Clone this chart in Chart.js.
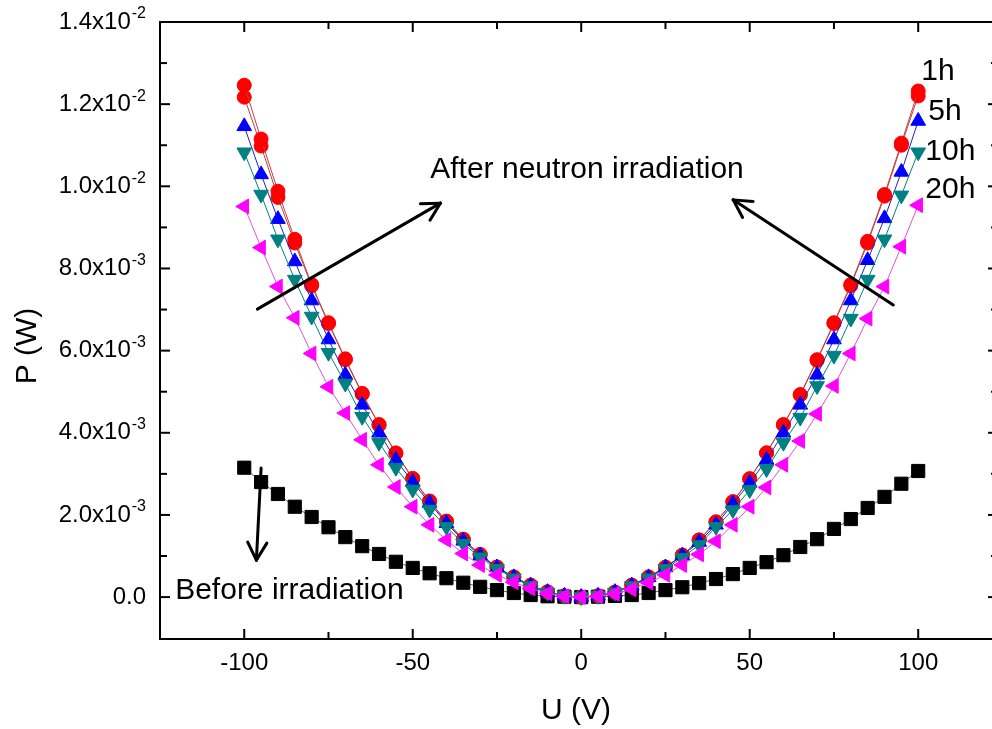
<!DOCTYPE html>
<html><head><meta charset="utf-8">
<script src="https://cdn.jsdelivr.net/npm/chart.js@4/dist/chart.umd.min.js"></script>
<style>
html,body{margin:0;padding:0;overflow:hidden;background:#fff;width:992px;height:729px;}
#c{display:block;}
</style></head><body><canvas id="c" width="992" height="729"></canvas>
<script>
// ---- data (P in mW, converted to W below) ----
const voltage = [-100,-95,-90,-85,-80,-75,-70,-65,-60,-55,-50,-45,-40,-35,-30,-25,-20,-15,-10,-5,0,5,10,15,20,25,30,35,40,45,50,55,60,65,70,75,80,85,90,95,100];
const beforeIrr = [3.15,2.80,2.51,2.20,1.95,1.70,1.46,1.24,1.05,0.86,0.71,0.58,0.46,0.35,0.25,0.17,0.10,0.05,0.02,0.01,0.00,0.01,0.03,0.05,0.10,0.17,0.24,0.34,0.44,0.56,0.71,0.85,1.02,1.22,1.41,1.66,1.90,2.17,2.44,2.76,3.07];
const irr1hA = [12.46,11.15,9.88,8.71,7.61,6.68,5.80,4.96,4.20,3.51,2.89,2.34,1.85,1.41,1.04,0.73,0.49,0.29,0.13,0.03,0.00,0.03,0.12,0.29,0.49,0.73,1.02,1.39,1.83,2.32,2.88,3.51,4.20,4.93,5.78,6.68,7.61,8.66,9.80,11.05,12.32];
const irr1hB = [12.17,10.98,9.73,8.62,7.58,6.66,5.78,4.94,4.19,3.50,2.88,2.33,1.84,1.40,1.03,0.73,0.49,0.29,0.12,0.03,0.00,0.03,0.12,0.29,0.49,0.73,1.02,1.39,1.83,2.32,2.88,3.51,4.19,4.92,5.76,6.66,7.58,8.62,9.76,11.00,12.20];
const irr5h = [11.46,10.29,9.20,8.17,7.22,6.27,5.41,4.68,4.00,3.34,2.80,2.29,1.80,1.37,1.01,0.72,0.48,0.28,0.12,0.03,0.00,0.03,0.12,0.28,0.48,0.72,1.01,1.34,1.76,2.27,2.78,3.34,4.00,4.68,5.41,6.27,7.22,8.20,9.22,10.35,11.59];
const irr10h = [10.83,9.80,8.71,7.73,6.83,5.95,5.20,4.39,3.76,3.15,2.62,2.13,1.71,1.30,0.97,0.69,0.46,0.27,0.11,0.03,0.00,0.03,0.11,0.27,0.46,0.69,0.96,1.27,1.71,2.12,2.61,3.12,3.76,4.37,5.14,5.88,6.78,7.73,8.71,9.78,10.83];
const irr20h = [9.51,8.51,7.56,6.80,5.93,5.12,4.48,3.83,3.22,2.68,2.20,1.76,1.39,1.06,0.78,0.54,0.36,0.21,0.09,0.02,0.00,0.02,0.08,0.19,0.35,0.54,0.78,1.04,1.36,1.76,2.20,2.67,3.22,3.80,4.46,5.14,5.93,6.78,7.56,8.53,9.54];

// ---- axis ticks / labels ----
const xTickValues = [-100,-50,0,50,100];
const xTickLabels = ['-100','-50','0','50','100'];
const xMinorTicks = [-75,-25,25,75];
const yTickValues = [0,0.002,0.004,0.006,0.008,0.010,0.012,0.014];
const yTickMantissa = ['0.0','2.0x10','4.0x10','6.0x10','8.0x10','1.0x10','1.2x10','1.4x10'];
const yTickExponent = ['','-3','-3','-3','-3','-2','-2','-2'];
const yMinorTicks = [0.001,0.003,0.005,0.007,0.009,0.011,0.013];
const xFrameEnd = 123.7; // right frame of the original figure lies just beyond the crop

// ---- annotations (in data coordinates) ----
const curveLabels = [
  {text:'1h', u:100.9, p:12.78e-3},
  {text:'5h', u:103.0, p:11.81e-3},
  {text:'10h', u:102.1, p:10.84e-3},
  {text:'20h', u:102.1, p:9.91e-3}
];
const noteTexts = [
  {text:'After neutron irradiation', u:-44.8, p:10.40e-3},
  {text:'Before irradiation', u:-120.5, p:0.15e-3}
];
const arrowList = [
  {from:[-96.1,7.01e-3], to:[-41.8,9.59e-3]},
  {from:[92.6,7.11e-3], to:[45.1,9.67e-3]},
  {from:[-95.0,3.14e-3], to:[-96.4,0.90e-3]}
];

const FONT = "'Liberation Sans', Arial, Helvetica, sans-serif";
Chart.defaults.font.family = FONT;
Chart.defaults.color = '#000';

function pts(arr){ return voltage.map((u,i)=>({x:u, y:arr[i]*1e-3})); }

function ds(label, arr, color, lineColor, style, rot, radius){
  return {
    label, data: pts(arr), borderColor: lineColor, borderWidth: 1,
    backgroundColor: color, pointBackgroundColor: color, pointBorderColor: color,
    pointBorderWidth: 1, pointStyle: style, pointRotation: rot, pointRadius: radius,
    pointHoverRadius: radius, tension: 0, fill: false, clip: false
  };
}

const datasets = [
  ds('20h', irr20h, '#FF00FF', '#E050E0', 'triangle', -90, 8.5),
  ds('10h', irr10h, '#008080', '#008080', 'triangle', 180, 8.5),
  ds('5h', irr5h, '#0000FF', '#2020C0', 'triangle', 0, 8.5),
  ds('1h', irr1hA, '#FF0000', '#C04040', 'circle', 0, 7),
  ds('1h', irr1hB, '#FF0000', '#C04040', 'circle', 0, 7),
  ds('Before irradiation', beforeIrr, '#000000', '#606060', 'rect', 0, 9.3)
];

function line(ctx,x1,y1,x2,y2){ctx.beginPath();ctx.moveTo(x1,y1);ctx.lineTo(x2,y2);ctx.stroke();}

const decor = {
  id:'decor',
  afterDatasetsDraw(chart){
    const ctx = chart.ctx, xs = chart.scales.x, ys = chart.scales.y;
    ctx.save();
    ctx.strokeStyle = '#000'; ctx.lineWidth = 3; ctx.lineCap = 'round';
    arrowList.forEach(a=>{
      const x1 = xs.getPixelForValue(a.from[0]), y1 = ys.getPixelForValue(a.from[1]);
      const x2 = xs.getPixelForValue(a.to[0]), y2 = ys.getPixelForValue(a.to[1]);
      line(ctx,x1,y1,x2,y2);
      const ang = Math.atan2(y2-y1, x2-x1), L = 20, w = 0.5;
      line(ctx,x2,y2,x2-L*Math.cos(ang-w),y2-L*Math.sin(ang-w));
      line(ctx,x2,y2,x2-L*Math.cos(ang+w),y2-L*Math.sin(ang+w));
    });
    ctx.fillStyle = '#000'; ctx.textBaseline = 'middle'; ctx.textAlign = 'left';
    ctx.font = '30px ' + FONT;
    noteTexts.concat(curveLabels).forEach(t=>{
      ctx.fillText(t.text, xs.getPixelForValue(t.u), ys.getPixelForValue(t.p));
    });
    ctx.restore();
  },
  afterDraw(chart){
    const ctx = chart.ctx, ca = chart.chartArea, xs = chart.scales.x, ys = chart.scales.y;
    const rx = xs.getPixelForValue(xFrameEnd);
    ctx.save();
    ctx.strokeStyle = '#000'; ctx.lineWidth = 2;
    ctx.strokeRect(ca.left, ca.top, rx-ca.left, ca.bottom-ca.top);
    const MAJ = 10, MIN = 7;
    xTickValues.forEach(v=>{const p=xs.getPixelForValue(v); line(ctx,p,ca.bottom,p,ca.bottom-MAJ); line(ctx,p,ca.top,p,ca.top+MAJ);});
    xMinorTicks.forEach(v=>{const p=xs.getPixelForValue(v); line(ctx,p,ca.bottom,p,ca.bottom-MIN); line(ctx,p,ca.top,p,ca.top+MIN);});
    yTickValues.forEach(v=>{const p=ys.getPixelForValue(v); line(ctx,ca.left,p,ca.left+MAJ,p); line(ctx,rx,p,rx-MAJ,p);});
    yMinorTicks.forEach(v=>{const p=ys.getPixelForValue(v); line(ctx,ca.left,p,ca.left+MIN,p); line(ctx,rx,p,rx-MIN,p);});
    // y tick labels with superscript exponents
    ctx.fillStyle = '#000'; ctx.textBaseline = 'middle'; ctx.textAlign = 'left';
    const right = ca.left - 14;
    yTickValues.forEach((v,i)=>{
      const p = ys.getPixelForValue(v);
      ctx.font = '16px ' + FONT;
      const ew = yTickExponent[i] ? ctx.measureText(yTickExponent[i]).width + 1 : 0;
      ctx.font = '24px ' + FONT;
      const mw = ctx.measureText(yTickMantissa[i]).width;
      ctx.fillText(yTickMantissa[i], right - ew - mw, p);
      if (yTickExponent[i]) {
        ctx.font = '16px ' + FONT;
        ctx.fillText(yTickExponent[i], right - ew + 1, p - 8);
      }
    });
    // y axis title
    ctx.font = '30px ' + FONT; ctx.textAlign = 'center';
    ctx.translate(28, 346); ctx.rotate(-Math.PI/2);
    ctx.fillText('P (W)', 0, 0);
    ctx.restore();
  }
};

new Chart(document.getElementById('c'), {
  type:'line',
  data:{datasets},
  options:{
    responsive:false, animation:false, devicePixelRatio:1,
    layout:{autoPadding:false, padding:{top:22, right:0, left:0, bottom:0}},
    plugins:{legend:{display:false}, tooltip:{enabled:false}},
    scales:{
      x:{type:'linear', min:-125, max:121.9,
        afterBuildTicks:s=>{s.ticks = xTickValues.map(v=>({value:v}));},
        afterFit:s=>{s.height = 90; s.paddingRight = 0; s.paddingLeft = 0;},
        grid:{display:false, drawTicks:false}, border:{display:false},
        ticks:{font:{size:24}, color:'#000', padding:10, maxRotation:0, autoSkip:false,
          callback:(v,i)=>xTickLabels[i]},
        title:{display:true, text:'U (V)', font:{size:30}, color:'#000', padding:{top:0,bottom:0}}
      },
      y:{type:'linear', min:-0.00102, max:0.014,
        afterBuildTicks:s=>{s.ticks = yTickValues.map(v=>({value:v}));},
        afterFit:s=>{s.width = 160;},
        grid:{display:false, drawTicks:false}, border:{display:false},
        ticks:{display:false}
      }
    }
  },
  plugins:[decor]
});
</script></body></html>
